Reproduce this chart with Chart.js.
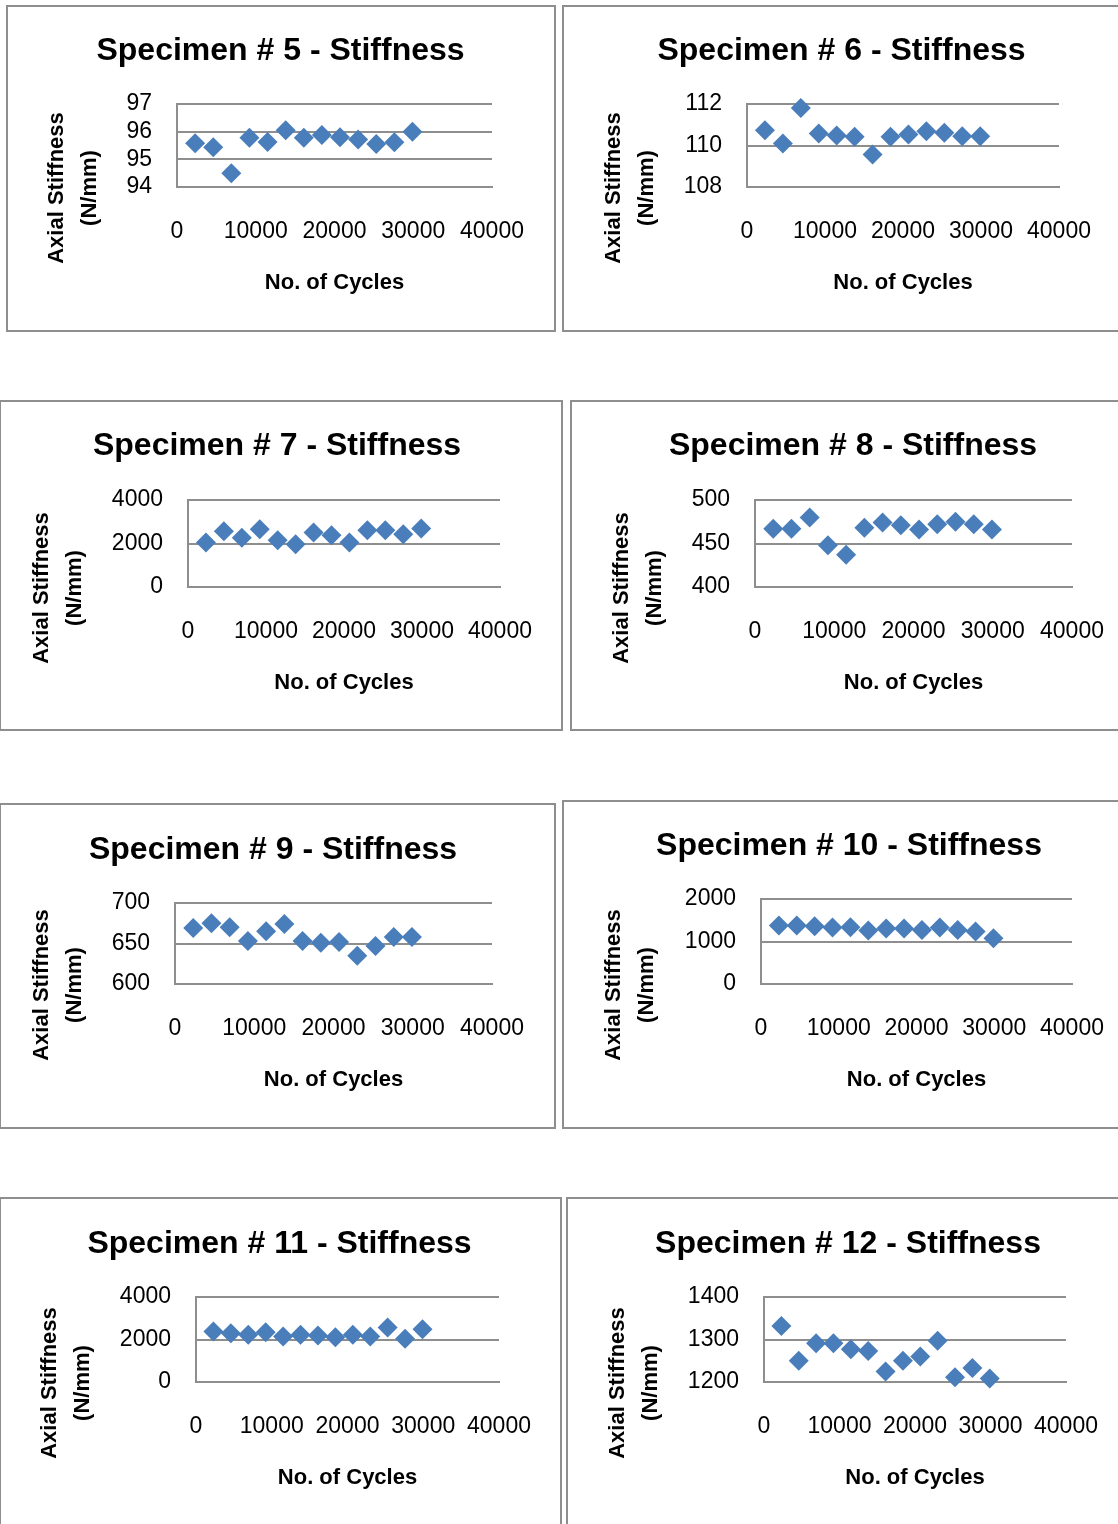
<!DOCTYPE html>
<html>
<head>
<meta charset="utf-8">
<script src="https://cdn.jsdelivr.net/npm/chart.js@4.4.1/dist/chart.umd.min.js"></script>
<style>
    body { margin: 0; width: 1118px; height: 1524px; overflow: hidden; background: #fff; position: relative; }
    .box { position: absolute; box-sizing: border-box; border: 2px solid #8e8e8e; }
    canvas { position: absolute; }
</style>
</head>
<body>
<script>
// cycles at which stiffness was measured (same for every specimen)
const cycles = [2300, 4600, 6900, 9200, 11500, 13800, 16100, 18400, 20700, 23000, 25300, 27600, 29900];

const specimens = ['5', '6', '7', '8', '9', '10', '11', '12'];

const spec5 = [95.58, 95.44, 94.5, 95.78, 95.63, 96.05, 95.78, 95.88, 95.8, 95.72, 95.55, 95.62, 96.0];
const spec6 = [110.74, 110.1, 111.81, 110.58, 110.48, 110.42, 109.57, 110.42, 110.53, 110.69, 110.61, 110.45, 110.45];
const spec7 = [2046, 2565, 2260, 2656, 2153, 1970, 2504, 2382, 2046, 2610, 2610, 2427, 2687];
const spec8 = [467, 467, 480, 448, 437, 468, 474, 471, 466, 472, 475, 472, 466];
const spec9 = [669, 675, 670, 653, 665, 674, 653, 651, 652, 635, 647, 658, 658];
const spec10 = [1375, 1375, 1360, 1328, 1336, 1258, 1305, 1305, 1273, 1328, 1273, 1234, 1078];
const spec11 = [2375, 2297, 2219, 2344, 2140, 2219, 2187, 2110, 2219, 2140, 2563, 2031, 2484];
const spec12 = [1332, 1250, 1291, 1291, 1277, 1273, 1225, 1250, 1260, 1297, 1211, 1233, 1208];
const stiffness = [spec5, spec6, spec7, spec8, spec9, spec10, spec11, spec12];

// axis ranges
const yMin = [94, 108, 0, 400, 600, 0, 0, 1200];
const yMax = [97, 112, 4000, 500, 700, 2000, 4000, 1400];
const yStep = [1, 2, 2000, 50, 50, 1000, 2000, 100];
const xMin = 0, xMax = 40000, xStep = 10000;

const xLabel = 'No. of Cycles';
const yLabel = ['Axial Stiffness', '(N/mm)'];

// where each chart sits on the page: box border, title centre, plot area, y title
const layout = [
    {box: [6, 5, 556, 332], titleX: 280.5, titleY: 51, plot: [177, 104, 492, 187], yTitleX: 57},
    {box: [562, 5, 1130, 332], titleX: 841.5, titleY: 51, plot: [747, 104, 1059, 187], yTitleX: 614},
    {box: [-1, 400, 563, 731], titleX: 277, titleY: 446, plot: [188, 500, 500, 587], yTitleX: 42},
    {box: [570, 400, 1130, 731], titleX: 853, titleY: 446, plot: [755, 500, 1072, 587], yTitleX: 622},
    {box: [-1, 803, 556, 1129], titleX: 273, titleY: 850, plot: [175, 903, 492, 984], yTitleX: 42},
    {box: [562, 800, 1130, 1129], titleX: 849, titleY: 846, plot: [761, 899, 1072, 984], yTitleX: 614},
    {box: [-1, 1197, 562, 1540], titleX: 279.5, titleY: 1244, plot: [196, 1297, 499, 1382], yTitleX: 50},
    {box: [566, 1197, 1130, 1540], titleX: 848, titleY: 1244, plot: [764, 1297, 1066, 1382], yTitleX: 618}
];

Chart.defaults.font.family = '"Liberation Sans", Arial, sans-serif';
Chart.defaults.color = '#000';

const gridColor = '#8e8e8e';

// rotated two-line y axis title, placed like Excel does it
const yTitlePlugin = {
    id: 'yTitle',
    afterDraw(chart, args, opts) {
        const ctx = chart.ctx;
        ctx.save();
        ctx.font = 'bold 22px "Liberation Sans", Arial, sans-serif';
        ctx.fillStyle = '#000';
        ctx.textAlign = 'center';
        ctx.textBaseline = 'middle';
        opts.lines.forEach((t, i) => {
            ctx.save();
            ctx.translate(opts.x + i * 33, opts.y);
            ctx.rotate(-Math.PI / 2);
            ctx.fillText(t, 0, 0);
            ctx.restore();
        });
        ctx.restore();
    }
};

layout.forEach((g, i) => {
    const div = document.createElement('div');
    div.className = 'box';
    div.style.left = g.box[0] + 'px';
    div.style.top = g.box[1] + 'px';
    div.style.width = (g.box[2] - g.box[0]) + 'px';
    div.style.height = (g.box[3] - g.box[1]) + 'px';
    document.body.appendChild(div);

    const left = Math.max(g.box[0], 0);
    const top = g.box[1];
    const plotL = g.plot[0] - left;
    const plotT = g.plot[1] - top;
    const plotR = g.plot[2] - left;
    const plotB = g.plot[3] - top;
    // right padding must stay wider than the last x label + tick padding
    const w = plotR + 80;
    const h = plotB + 130;
    // left padding moves the centre of the title box onto the title position
    const padL = 2 * (g.titleX - left) - plotR;

    const canvas = document.createElement('canvas');
    canvas.width = w;
    canvas.height = h;
    canvas.style.left = left + 'px';
    canvas.style.top = top + 'px';
    document.body.appendChild(canvas);

    const titleLH = 32 * 1.2;
    const titleMid = g.titleY - top;

    new Chart(canvas, {
        type: 'scatter',
        data: {
            datasets: [{
                data: cycles.map((c, k) => ({x: c, y: stiffness[i][k]})),
                pointStyle: 'rectRot',
                pointRadius: 10,
                pointHoverRadius: 10,
                backgroundColor: '#4a7ebb',
                borderColor: '#4a7ebb',
                borderWidth: 0,
                clip: false
            }]
        },
        options: {
            responsive: false,
            animation: false,
            events: [],
            layout: {padding: {left: padL, top: 0, bottom: 0, right: w - plotR}},
            plugins: {
                legend: {display: false},
                tooltip: {enabled: false},
                title: {
                    display: true,
                    text: 'Specimen # ' + specimens[i] + ' - Stiffness',
                    font: {size: 32, weight: 'bold'},
                    color: '#000',
                    padding: {top: titleMid - titleLH / 2, bottom: plotT - titleMid - titleLH / 2}
                },
                yTitle: {x: g.yTitleX - left, y: g.plot[3] + 1 - top, lines: yLabel}
            },
            scales: {
                x: {
                    type: 'linear',
                    min: xMin,
                    max: xMax,
                    ticks: {stepSize: xStep, padding: 31, font: {size: 23}, color: '#000', autoSkip: false, callback: v => String(v)},
                    grid: {display: false, drawTicks: false},
                    border: {display: true, color: gridColor, width: 2},
                    title: {display: true, text: xLabel, font: {size: 22, weight: 'bold'}, color: '#000', padding: {top: 0, bottom: 20.8}},
                    afterFit: s => { s.height = h - plotB; }
                },
                y: {
                    min: yMin[i],
                    max: yMax[i],
                    ticks: {stepSize: yStep[i], padding: 25, font: {size: 23}, color: '#000', autoSkip: false, callback: v => String(v)},
                    grid: {display: true, drawTicks: false, color: gridColor, lineWidth: 2},
                    border: {display: true, color: gridColor, width: 2},
                    afterFit: s => { s.width = plotL - padL; }
                }
            }
        },
        plugins: [yTitlePlugin]
    });
});
</script>
</body>
</html>
